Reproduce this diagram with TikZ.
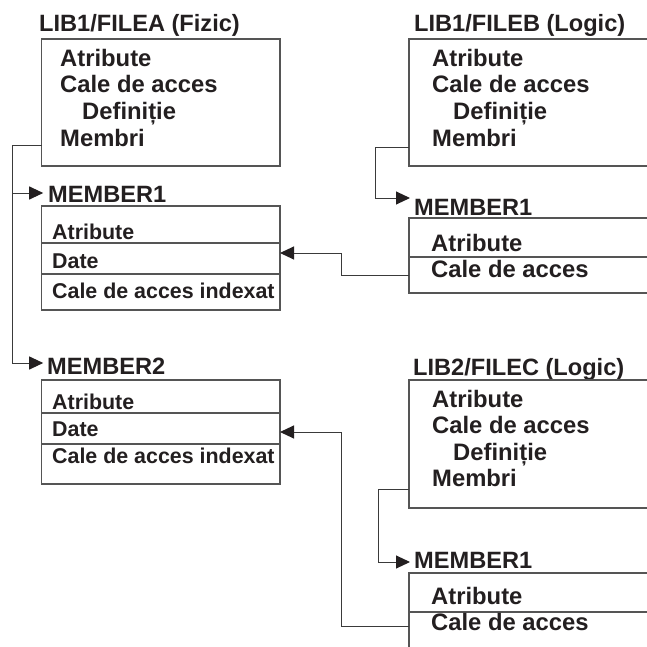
\documentclass[tikz,border=0pt]{standalone}
\usepackage{fontspec}
\setmainfont{Liberation Sans}
\usetikzlibrary{arrows.meta,calc}
\definecolor{ln}{HTML}{555555}
\definecolor{cn}{HTML}{3A3A3A}
\definecolor{tx}{HTML}{231F20}
\tikzset{
  ttl/.style={anchor=base west, inner sep=0pt, text=tx, font=\fontsize{23.6}{24}\selectfont\bfseries},
  itm/.style={anchor=base west, inner sep=0pt, text=tx, font=\fontsize{23.8}{24}\selectfont\bfseries},
  mitm/.style={anchor=base west, inner sep=0pt, text=tx, font=\fontsize{21.4}{22}\selectfont\bfseries},
  boxn/.style={draw=ln, line width=1.2pt, anchor=north west, inner sep=0pt, outer sep=0pt},
  openbox/.style={draw=none, anchor=north west, inner sep=0pt, outer sep=0pt},
  bl/.style={draw=ln, line width=1.2pt},
  conn/.style={draw=cn, line width=1pt},
  arr/.style={conn, -{Triangle[length=14pt,width=13pt,fill=tx,color=tx]}}
}
\begin{document}
\begin{tikzpicture}[x=1pt,y=-1pt]
\useasboundingbox (0,0) rectangle (647,647);
\clip (0,0) rectangle (647,647);
\fill[white] (0,0) rectangle (647,647);

% ---------- LIB1/FILEA ----------
\node[ttl] (fat) at (39,32) {LIB1/FILEA (Fizic)};
\node[boxn, minimum width=238.3pt, minimum height=127pt] (fa) at (41.7,39) {};
\node[itm] (fa1) at (60,67) {Atribute};
\node[itm] (fa2) at (60,93) {Cale de acces};
\node[itm] (fa3) at (82,120) {Definiție};
\node[itm] (fa4) at (60,147) {Membri};

% ---------- MEMBER1 of FILEA ----------
\node[ttl] (m1t) at (48,202) {MEMBER1};
\node[boxn, minimum width=238.3pt, minimum height=104pt] (m1) at (41.7,206) {};
\draw[bl] ($(m1.north west)+(0,37)$) -- ($(m1.north east)+(0,37)$);
\draw[bl] ($(m1.north west)+(0,68)$) -- ($(m1.north east)+(0,68)$);
\node[mitm] (m1a) at (52,239) {Atribute};
\node[mitm] (m1b) at (52,268) {Date};
\node[mitm] (m1c) at (52,298) {Cale de acces indexat};

% ---------- MEMBER2 of FILEA ----------
\node[ttl] (m2t) at (47,374) {MEMBER2};
\node[boxn, minimum width=238.3pt, minimum height=104pt] (m2) at (41.7,380) {};
\draw[bl] ($(m2.north west)+(0,33)$) -- ($(m2.north east)+(0,33)$);
\draw[bl] ($(m2.north west)+(0,64)$) -- ($(m2.north east)+(0,64)$);
\node[mitm] (m2a) at (52,409) {Atribute};
\node[mitm] (m2b) at (52,436) {Date};
\node[mitm] (m2c) at (52,463) {Cale de acces indexat};

% ---------- LIB1/FILEB ----------
\node[ttl] (fbt) at (414,32) {LIB1/FILEB (Logic)};
\node[openbox, minimum width=251pt, minimum height=127pt] (fb) at (409,39) {};
\draw[bl] (fb.north east) -- (fb.north west) -- (fb.south west) -- (fb.south east);
\node[itm] (fb1) at (432,67) {Atribute};
\node[itm] (fb2) at (432,93) {Cale de acces};
\node[itm] (fb3) at (453,120) {Definiție};
\node[itm] (fb4) at (432,147) {Membri};

% ---------- MEMBER1 of FILEB ----------
\node[ttl] (bmt) at (414,215) {MEMBER1};
\node[openbox, minimum width=251pt, minimum height=75pt] (bm) at (409,218) {};
\draw[bl] (bm.north east) -- (bm.north west) -- (bm.south west) -- (bm.south east);
\draw[bl] ($(bm.north west)+(0,39)$) -- ($(bm.north east)+(0,39)$);
\node[itm] (bm1) at (431,251) {Atribute};
\node[itm] (bm2) at (431,277) {Cale de acces};

% ---------- LIB2/FILEC ----------
\node[ttl] (fct) at (413,375) {LIB2/FILEC (Logic)};
\node[openbox, minimum width=251pt, minimum height=128pt] (fc) at (409,380) {};
\draw[bl] (fc.north east) -- (fc.north west) -- (fc.south west) -- (fc.south east);
\node[itm] (fc1) at (432,407) {Atribute};
\node[itm] (fc2) at (432,433) {Cale de acces};
\node[itm] (fc3) at (453,460) {Definiție};
\node[itm] (fc4) at (432,486) {Membri};

% ---------- MEMBER1 of FILEC ----------
\node[ttl] (cmt) at (414,568) {MEMBER1};
\node[openbox, minimum width=251pt, minimum height=87pt] (cm) at (409,573) {};
\draw[bl] (cm.north east) -- (cm.north west) -- (cm.south west);
\draw[bl] ($(cm.north west)+(0,39)$) -- ($(cm.north east)+(0,39)$);
\node[itm] (cm1) at (431,604) {Atribute};
\node[itm] (cm2) at (431,630) {Cale de acces};

% ---------- connectors ----------
\coordinate (busA) at (12.5,0);
\coordinate (busB) at (375,0);
\coordinate (busC) at (378,0);
\coordinate (busD) at (341,0);

% FILEA -> MEMBER1, MEMBER2
\draw[arr] ($(fa.south west)+(0,-20)$) -| ($(busA |- m2.north west)+(0,-17)$) -- ($(m2.north west)+(1.5,-17)$);
\draw[arr] ($(busA |- m1.north west)+(0,-13)$) -- ($(m1.north west)+(1.5,-13)$);

% FILEB -> its MEMBER1
\draw[arr] ($(fb.south west)+(0,-18)$) -| ($(busB |- bm.north west)+(0,-20)$) -- ($(bm.north west)+(1,-20)$);

% FILEB MEMBER1 -> FILEA MEMBER1 (Date)
\draw[arr] ($(bm.north west)+(0,57)$) -| ($(busD |- m1.north east)+(0,47)$) -- ($(m1.north east)+(0,47)$);

% FILEC -> its MEMBER1
\draw[arr] ($(fc.south west)+(0,-19)$) -| ($(busC |- cm.north west)+(0,-11)$) -- ($(cm.north west)+(1,-11)$);

% FILEC MEMBER1 -> MEMBER2 (Date)
\draw[arr] ($(cm.north west)+(0,53)$) -| ($(busD |- m2.north east)+(0,52)$) -- ($(m2.north east)+(0,52)$);
\end{tikzpicture}
\end{document}
